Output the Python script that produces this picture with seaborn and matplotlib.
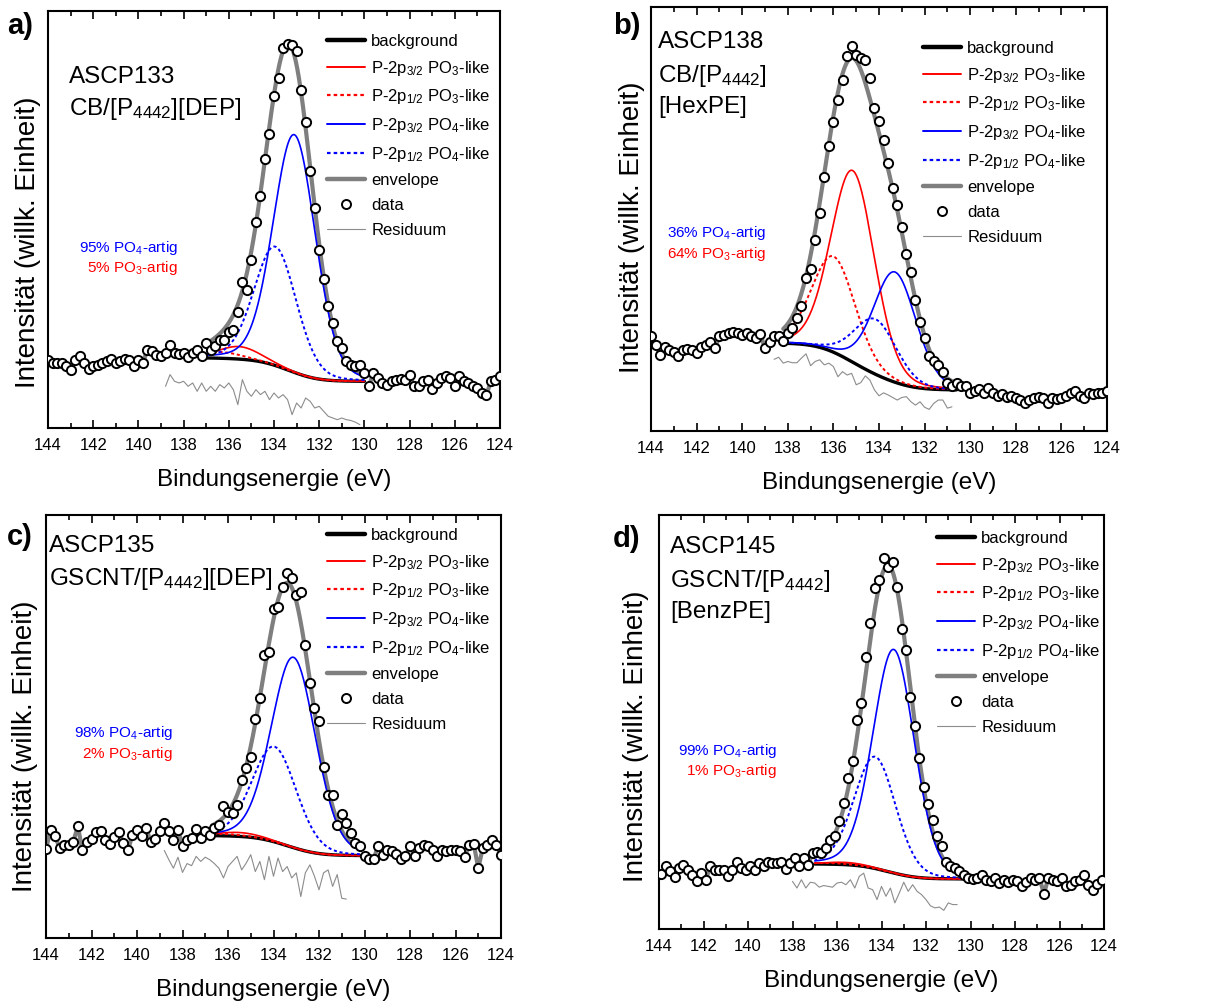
import numpy as np
import pandas as pd
import matplotlib
matplotlib.use("Agg")
import matplotlib.pyplot as plt
from matplotlib.lines import Line2D
from matplotlib.ticker import MultipleLocator
import seaborn as sns

# ---------------------------------------------------------------- data
STEP = 0.2  # eV, energy step of the P 2p scans

panel_letters = ["a)", "b)", "c)", "d)"]
sample_lines = [
    ["ASCP133", "CB/[P$_{4442}$][DEP]"],
    ["ASCP138", "CB/[P$_{4442}$]", "[HexPE]"],
    ["ASCP135", "GSCNT/[P$_{4442}$][DEP]"],
    ["ASCP145", "GSCNT/[P$_{4442}$]", "[BenzPE]"],
]

# first energy of each scan (eV); scans run towards lower binding energy
scan_start = [144.0, 144.0, 144.0, 143.9]

a_counts = [
    16.4, 15.6, 15.6, 15.6, 14.8, 14.0, 16.2, 17.2, 15.6, 14.2,
    14.9, 15.2, 15.7, 16.1, 16.5, 15.6, 16.0, 16.5, 16.4, 14.9,
    16.4, 15.6, 18.8, 18.4, 17.6, 17.2, 18.0, 20.0, 18.0, 17.8,
    18.0, 17.0, 18.0, 18.8, 17.3, 20.4, 18.8, 19.6, 21.1, 21.1,
    23.1, 23.5, 27.7, 35.1, 33.0, 40.3, 49.5, 55.6, 64.6, 70.6,
    79.6, 84.0, 91.2, 92.2, 91.9, 90.4, 81.0, 73.4, 61.7, 52.7,
    42.7, 35.7, 29.3, 25.1, 20.8, 19.2, 16.0, 15.2, 14.8, 15.2,
    13.2, 10.1, 13.2, 12.0, 10.8, 10.4, 11.2, 11.6, 11.7, 11.6,
    12.8, 10.0, 10.0, 11.2, 11.6, 9.3, 10.8, 12.0, 12.5, 12.0,
    10.0, 12.4, 11.2, 10.8, 10.0, 9.6, 8.5, 8.0, 11.2, 11.6,
    12.4,
]
b_counts = [
    22.3, 20.3, 17.9, 19.9, 19.1, 18.7, 17.7, 19.1, 19.3, 19.1,
    18.5, 19.9, 20.3, 21.1, 19.5, 22.3, 22.7, 23.2, 23.4, 23.1,
    22.7, 23.1, 22.3, 21.9, 22.8, 19.5, 21.1, 22.3, 22.3, 21.3,
    23.2, 24.2, 26.6, 29.5, 36.0, 38.2, 45.1, 51.4, 59.8, 67.1,
    72.9, 78.1, 82.8, 88.5, 90.7, 88.7, 88.0, 87.4, 83.2, 76.2,
    73.2, 68.7, 63.2, 57.3, 53.3, 48.2, 41.8, 37.6, 30.9, 25.8,
    21.9, 17.7, 16.4, 15.6, 14.0, 11.3, 10.5, 11.4, 10.5, 10.5,
    9.0, 9.5, 9.8, 9.0, 10.1, 8.9, 8.3, 8.7, 8.1, 8.3,
    7.9, 7.3, 6.7, 7.3, 7.7, 8.1, 7.7, 6.7, 7.7, 7.5,
    7.7, 8.3, 8.9, 9.5, 8.3, 7.9, 8.9, 8.7, 8.9, 8.9,
    9.5,
]
c_counts = [
    21.0, 25.6, 24.0, 21.3, 22.0, 22.0, 22.8, 26.4, 20.7, 22.8,
    23.4, 25.0, 25.2, 23.2, 22.3, 23.9, 25.0, 22.4, 20.7, 24.4,
    25.6, 24.0, 26.0, 22.8, 23.4, 25.4, 27.2, 25.2, 23.1, 25.6,
    21.8, 23.2, 23.6, 25.7, 23.6, 25.2, 24.4, 26.0, 26.8, 31.1,
    29.7, 29.5, 31.5, 37.4, 40.2, 42.8, 51.7, 56.7, 66.9, 67.6,
    77.7, 78.3, 82.9, 86.2, 85.0, 81.1, 81.9, 69.3, 60.2, 54.3,
    51.4, 40.4, 33.9, 33.9, 26.8, 29.4, 27.3, 24.8, 22.4, 21.7,
    19.3, 18.7, 18.7, 21.7, 19.7, 20.7, 20.5, 19.9, 18.7, 19.4,
    21.7, 19.3, 21.3, 22.0, 21.7, 20.9, 19.3, 20.9, 20.5, 20.7,
    20.9, 20.5, 19.1, 22.0, 22.3, 16.5, 21.3, 22.0, 23.2, 22.0,
    19.7,
]
d_counts = [
    13.4, 15.1, 13.9, 12.6, 14.7, 15.5, 14.3, 13.1, 11.7, 13.5,
    11.9, 15.1, 14.2, 14.2, 14.2, 12.7, 14.3, 16.2, 14.7, 14.2,
    15.1, 14.3, 15.9, 15.1, 16.3, 15.9, 15.9, 16.3, 14.5, 15.9,
    17.1, 15.1, 17.1, 15.5, 18.3, 18.7, 18.3, 19.5, 21.6, 22.5,
    26.0, 30.4, 36.4, 40.5, 50.5, 54.5, 65.8, 73.9, 82.3, 84.3,
    89.5, 87.5, 88.7, 82.5, 72.5, 67.3, 56.0, 49.1, 41.3, 34.4,
    30.2, 26.4, 22.4, 20.0, 16.3, 15.1, 14.7, 13.9, 13.1, 12.3,
    12.1, 12.3, 13.1, 11.9, 11.5, 12.3, 11.1, 11.9, 11.3, 11.9,
    11.5, 10.5, 11.3, 12.3, 11.9, 12.3, 8.5, 12.3, 11.9, 11.5,
    12.3, 10.3, 10.7, 11.5, 11.9, 13.1, 10.7, 9.5, 10.9, 11.9,
]

# residuals (drawn with their display offset)
resid_start = [138.8, 138.6, 138.8, 138.0]
a_resid = [10.0, 12.8, 11.2, 10.8, 11.2, 10.0, 10.8, 8.8, 10.8, 8.8,
           10.0, 8.8, 10.4, 9.6, 10.8, 9.2, 5.6, 11.6, 8.8, 7.6,
           9.2, 8.0, 8.8, 6.8, 8.4, 7.2, 8.0, 6.8, 3.2, 6.0,
           4.8, 7.2, 6.4, 4.8, 5.2, 4.0, 2.8, 2.4, 2.0, 2.4,
           2.0, 1.8, 1.4, 0.8]
b_resid = [16.9, 17.4, 16.0, 16.4, 16.1, 16.1, 17.2, 18.2, 15.4, 16.4,
           16.8, 15.6, 16.0, 15.2, 12.8, 14.0, 13.2, 13.6, 10.9, 11.4,
           13.0, 12.0, 9.7, 8.3, 9.0, 8.5, 7.9, 7.3, 7.9, 8.1,
           6.9, 6.1, 6.9, 5.6, 5.1, 6.5, 7.3, 7.3, 5.4, 5.7]
c_resid = [20.7, 18.5, 16.5, 19.1, 15.5, 17.6, 17.1, 19.3, 18.1, 19.1,
           18.5, 17.6, 16.5, 14.2, 16.9, 18.1, 19.3, 16.1, 17.7, 19.7,
           15.7, 18.1, 13.8, 19.3, 14.6, 18.9, 15.7, 16.9, 14.2, 15.4,
           9.8, 15.4, 17.3, 14.6, 11.4, 15.4, 16.1, 12.2, 15.0, 9.4,
           9.2]
d_resid = [11.5, 9.9, 11.9, 9.9, 11.3, 11.1, 10.1, 10.5, 10.3, 10.1,
           11.1, 11.3, 10.7, 11.9, 9.9, 12.7, 13.5, 9.9, 9.5, 7.1,
           10.3, 7.9, 9.9, 6.3, 8.7, 11.3, 9.1, 10.7, 9.1, 8.3,
           7.1, 5.6, 5.1, 5.3, 4.5, 6.3, 5.9, 5.9]

counts = [a_counts, b_counts, c_counts, d_counts]
residuals = [a_resid, b_resid, c_resid, d_resid]

# fit results: PO4 / PO3 fractions and P 2p3/2 peak parameters
po4_percent = [95, 36, 98, 99]
po3_percent = [5, 64, 2, 1]
po4_center = [133.10, 133.30, 133.12, 133.45]
po4_height = [57.0, 26.0, 45.0, 54.0]
po4_fwhm = [2.2, 2.2, 2.3, 2.2]
po3_center = [135.55, 135.15, 135.50, 135.60]
po3_fwhm = [2.2, 2.25, 2.3, 2.2]
SO_SPLIT = 0.84      # P 2p spin-orbit splitting (eV)
SO_RATIO = 0.5       # 2p1/2 : 2p3/2 area ratio
GL_MIX = 0.15        # Lorentzian share of the line shape

# fit window and Shirley background end points
fit_high = [137.0, 138.2, 136.7, 137.0]
fit_low = [130.0, 130.6, 130.2, 130.4]
bg_at_high = [16.8, 20.7, 24.2, 15.7]
bg_at_low = [11.2, 9.7, 19.5, 12.1]

# ---------------------------------------------------------------- layout
W, H = 1208, 1001
axes_px = [  # left, top, right, bottom in pixels
    (48, 11, 500, 428),
    (651, 7, 1107, 431),
    (46, 515, 501, 938),
    (659, 515, 1104, 929),
]
letter_px = [(7, 12), (613, 12), (7, 523), (613, 525)]
sample_px = [(69, [83, 115]), (658, [48, 82, 113]),
             (49, [552, 585]), (670, [553, 587, 618])]
pct_px = [(178, 252, 272), (766, 237, 258), (173, 737, 758), (777, 755, 775)]
legend_px = [(327, 34), (923, 41), (327, 528), (937, 531)]
ylabel_px = [(28, 242), (632, 227), (25, 746), (636, 736)]

sns.set_theme(style="ticks")
plt.rcParams["font.family"] = ["Liberation Sans", "DejaVu Sans"]
plt.rcParams["mathtext.fontset"] = "custom"
plt.rcParams["mathtext.rm"] = "Liberation Sans"
plt.rcParams["mathtext.it"] = "Liberation Sans"
plt.rcParams["mathtext.default"] = "regular"
plt.rcParams["text.color"] = "black"
plt.rcParams["axes.labelcolor"] = "black"
plt.rcParams["xtick.color"] = "black"
plt.rcParams["ytick.color"] = "black"

BLUE = "#0000ff"
RED = "#ff0000"
ENV_GRAY = "#7f7f7f"
RES_GRAY = "#8c8c8c"
DOT = (0, (1.6, 1.4))


def line_shape(E, center, height, fwhm):
    x = (E - center) / fwhm
    return height * ((1 - GL_MIX) * np.exp(-4 * np.log(2) * x ** 2)
                     + GL_MIX / (1 + 4 * x ** 2))


def fx(px):
    return px / W


def fy(py):
    return 1 - py / H


fig = plt.figure(figsize=(W / 100, H / 100), dpi=100)

for i in range(4):
    l, t, r, b = axes_px[i]
    ax = fig.add_axes([fx(l), fy(b), (r - l) / W, (b - t) / H])

    # measured spectrum
    y = np.asarray(counts[i], dtype=float)
    E = np.round(scan_start[i] - STEP * np.arange(len(y)), 2)

    # fit components on a fine grid inside the fit window
    Ef = np.linspace(fit_low[i], fit_high[i], 400)
    h4 = po4_height[i]
    h3 = h4 * po4_fwhm[i] / po3_fwhm[i] * po3_percent[i] / po4_percent[i]
    p4_32 = line_shape(Ef, po4_center[i], h4, po4_fwhm[i])
    p4_12 = line_shape(Ef, po4_center[i] + SO_SPLIT, h4 * SO_RATIO, po4_fwhm[i])
    p3_32 = line_shape(Ef, po3_center[i], h3, po3_fwhm[i])
    p3_12 = line_shape(Ef, po3_center[i] + SO_SPLIT, h3 * SO_RATIO, po3_fwhm[i])
    peaks = p4_32 + p4_12 + p3_32 + p3_12
    cum = np.concatenate([[0], np.cumsum(0.5 * (peaks[1:] + peaks[:-1]) * np.diff(Ef))])
    bg = bg_at_low[i] + (bg_at_high[i] - bg_at_low[i]) * cum / cum[-1]
    envelope = bg + peaks

    # envelope: model inside the window, trace of the data outside it
    env_df = pd.concat([
        pd.DataFrame({"E": E[E > fit_high[i]], "I": y[E > fit_high[i]], "part": 0}),
        pd.DataFrame({"E": Ef[::-1], "I": envelope[::-1], "part": 1}),
        pd.DataFrame({"E": E[E < fit_low[i]], "I": y[E < fit_low[i]], "part": 2}),
    ])
    for part, sub in env_df.groupby("part"):
        sns.lineplot(data=sub, x="E", y="I", ax=ax, color=ENV_GRAY, lw=3.0,
                     estimator=None, sort=False, legend=False, zorder=2)

    comp = pd.DataFrame({"E": Ef, "bg": bg, "p3_32": bg + p3_32, "p3_12": bg + p3_12,
                         "p4_32": bg + p4_32, "p4_12": bg + p4_12})
    sns.lineplot(data=comp, x="E", y="bg", ax=ax, color="black", lw=2.4,
                 estimator=None, sort=False, zorder=3)
    sns.lineplot(data=comp, x="E", y="p3_32", ax=ax, color=RED, lw=1.2,
                 estimator=None, sort=False, zorder=4)
    sns.lineplot(data=comp, x="E", y="p3_12", ax=ax, color=RED, lw=1.4, ls=DOT,
                 estimator=None, sort=False, zorder=4)
    sns.lineplot(data=comp, x="E", y="p4_32", ax=ax, color=BLUE, lw=1.2,
                 estimator=None, sort=False, zorder=4)
    sns.lineplot(data=comp, x="E", y="p4_12", ax=ax, color=BLUE, lw=1.4, ls=DOT,
                 estimator=None, sort=False, zorder=4)

    # residual
    res = np.asarray(residuals[i], dtype=float)
    Er = np.round(resid_start[i] - STEP * np.arange(len(res)), 2)
    sns.lineplot(x=Er, y=res, ax=ax, color=RES_GRAY, lw=0.8,
                 estimator=None, sort=False, zorder=3)

    # data points
    sns.scatterplot(x=E, y=y, ax=ax, s=44, facecolor="white", edgecolor="black",
                    linewidth=1.4, zorder=5, legend=False)

    # axes styling
    ax.set_xlim(144, 124)
    ax.set_ylim(0, 100)
    ax.xaxis.set_major_locator(MultipleLocator(2))
    ax.xaxis.set_minor_locator(MultipleLocator(1))
    ax.set_yticks([])
    ax.tick_params(axis="x", which="both", direction="in", top=True, bottom=True,
                   labelsize=12, width=1.2, pad=7, colors="black")
    ax.tick_params(axis="x", which="major", length=6)
    ax.tick_params(axis="x", which="minor", length=3.5)
    for sp in ax.spines.values():
        sp.set_visible(True)
        sp.set_linewidth(1.5)
        sp.set_color("black")
    ax.set_xlabel("Bindungsenergie (eV)", fontsize=17.5, labelpad=12)
    ax.set_ylabel("Intensität (willk. Einheit)", fontsize=20, va="center")
    yl_x, yl_y = ylabel_px[i]
    ax.yaxis.set_label_coords((yl_x - l) / (r - l), 1 - (yl_y - t) / (b - t))
    ax.set_facecolor("white")

    # legend
    handles = [
        Line2D([], [], color="black", lw=3.2),
        Line2D([], [], color=RED, lw=1.4),
        Line2D([], [], color=RED, lw=1.6, ls=DOT),
        Line2D([], [], color=BLUE, lw=1.4),
        Line2D([], [], color=BLUE, lw=1.6, ls=DOT),
        Line2D([], [], color=ENV_GRAY, lw=3.2),
        Line2D([], [], ls="none", marker="o", ms=6.5, mfc="white", mec="black", mew=1.4),
        Line2D([], [], color=RES_GRAY, lw=0.8),
    ]
    labels = [
        "background",
        "P-2p$_{3/2}$ PO$_3$-like",
        "P-2p$_{1/2}$ PO$_3$-like",
        "P-2p$_{3/2}$ PO$_4$-like",
        "P-2p$_{1/2}$ PO$_4$-like",
        "envelope",
        "data",
        "Residuum",
    ]
    lx, ly = legend_px[i]
    ax.legend(handles, labels, loc="upper left",
              bbox_to_anchor=((lx - l) / (r - l), 1 - (ly - t) / (b - t)),
              frameon=False, fontsize=12, handlelength=2.3, handletextpad=0.35,
              labelspacing=0.58, borderaxespad=0, borderpad=0, numpoints=1)

    # panel letter, sample name, fractions
    fig.text(fx(letter_px[i][0]), fy(letter_px[i][1]), panel_letters[i],
             fontsize=21, fontweight="bold", va="top", ha="left")
    sx, baselines = sample_px[i]
    for line, by in zip(sample_lines[i], baselines):
        fig.text(fx(sx), fy(by), line, fontsize=17.5, va="baseline", ha="left")
    px, py4, py3 = pct_px[i]
    fig.text(fx(px), fy(py4), f"{po4_percent[i]}% PO$_4$-artig", color=BLUE,
             fontsize=11, va="baseline", ha="right")
    fig.text(fx(px), fy(py3), f"{po3_percent[i]}% PO$_3$-artig", color=RED,
             fontsize=11, va="baseline", ha="right")

fig.savefig("out.png", dpi=100, facecolor="white")
